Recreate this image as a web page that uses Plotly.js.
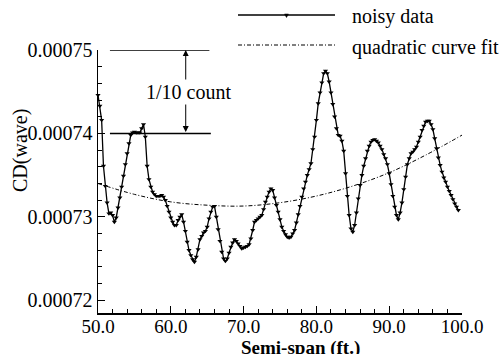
<!DOCTYPE html>
<html><head><meta charset="utf-8">
<script src="https://cdn.plot.ly/plotly-3.0.1.min.js"></script>
<style>html,body{margin:0;padding:0;background:#fff;}#chart{width:499px;height:354px;}</style>
</head><body><div id="chart"></div>
<script>
// Semi-span stations (ft): first station and spacing
const spanStart = 50;
const spanStep = 0.25;
// CD(wave) x 1e6, noisy data, one value per station
const noisyCD = [
  744.6,743.3,741.6,736.1,733.7,731.7,730.4,730.5,
  730.2,729.4,729.9,731.1,732.3,733.6,734.9,736.3,
  737.6,738.8,739.8,740.1,740.2,740.1,740.1,740.1,
  740.6,741.1,739.6,736.1,734.5,733.6,733.0,732.7,
  732.5,732.5,732.5,732.6,732.4,732.0,731.3,730.6,
  729.9,729.4,729.0,729.0,729.6,730.0,730.3,729.4,
  728.3,727.0,726.0,725.4,724.9,724.6,725.2,726.1,
  727.3,727.7,728.1,728.3,728.8,729.8,730.6,731.2,
  731.3,730.0,728.5,727.1,725.8,725.0,724.7,725.0,
  725.7,726.4,726.9,727.3,727.1,726.8,726.5,726.2,
  726.3,726.4,726.5,726.7,727.4,728.4,729.4,729.6,
  729.8,730.0,730.2,730.9,731.8,732.4,733.0,733.4,
  733.2,732.3,731.4,730.6,729.7,728.8,728.3,727.9,
  727.6,727.5,727.6,728.0,728.4,729.3,730.3,731.3,
  732.4,733.4,734.2,735.0,735.7,736.4,738.1,739.6,
  741.6,743.6,744.9,746.1,747.2,747.5,747.2,746.2,
  744.9,743.5,742.0,740.6,739.8,739.7,739.1,737.9,
  735.2,732.5,730.2,728.6,728.2,729.0,730.5,732.2,
  733.8,735.0,736.1,737.0,737.9,738.5,739.0,739.2,
  739.3,739.1,738.9,738.5,738.1,737.5,737.0,736.3,
  735.2,733.9,732.5,731.2,730.2,729.7,730.5,731.7,
  733.3,734.8,736.3,737.0,737.6,737.8,738.1,738.4,
  739.0,739.6,740.4,740.9,741.4,741.5,741.5,741.1,
  740.5,739.4,738.2,737.1,736.2,735.4,734.7,734.2,
  733.6,733.1,732.6,732.1,731.6,731.2,730.8
];
// quadratic curve fit, read every 5 ft
const fitStart = 50;
const fitStep = 5;
const fitCD = [734.0,732.7,731.8,731.4,731.3,731.7,732.5,733.7,735.3,737.4,739.8];

const xTickVals = [50,60,70,80,90,100];
const xTickText = ["50.0","60.0","70.0","80.0","90.0","100.0"];
const yTickVals = [720,730,740,750];
const yTickText = ["0.00072","0.00073","0.00074","0.00075"];
const seriesNames = ["noisy data","quadratic curve fit"];
const xTitle = "Semi-span (ft.)";
const yTitle = "CD(wave)";
const noteText = "1/10 count";

const FONT = "Liberation Serif, Times New Roman, serif";
const fitDash = "4px,2px,1px,2px";

const traces = [
  {type:'scatter', mode:'lines+markers', name:seriesNames[0],
   x0:spanStart, dx:spanStep, y:noisyCD, cliponaxis:false,
   line:{color:'#000', width:1.3},
   marker:{symbol:'triangle-down', size:4.5, color:'#000'}},
  {type:'scatter', mode:'lines', name:seriesNames[1],
   x0:fitStart, dx:fitStep, y:fitCD, line:{color:'#000', width:1, dash:fitDash, shape:'spline'}}
];

const axisCommon = {
  showline:true, linecolor:'#000', linewidth:1.5, mirror:false,
  showgrid:false, zeroline:false, ticks:'inside', ticklen:7, tickwidth:1.2, tickcolor:'#000',
  tickmode:'array', tickfont:{family:FONT, size:19, color:'#000'}, fixedrange:true
};

const px2xp = p => (p-98)/364;
const py2yp = p => (313-p)/263;

const layout = {
  width:499, height:354, autosize:false,
  margin:{l:98, r:37, t:50, b:41, pad:0},
  paper_bgcolor:'#fff', plot_bgcolor:'#fff',
  showlegend:false,
  font:{family:FONT, color:'#000', size:20},
  xaxis:Object.assign({}, axisCommon, {range:[50,100], tickvals:xTickVals, ticktext:xTickText,
    ticklabelstandoff:-4,
    minor:{tickmode:'linear', tick0:50, dtick:2, ticks:'inside', ticklen:4, tickwidth:1, tickcolor:'#000'}}),
  yaxis:Object.assign({}, axisCommon, {range:[718.48,750], tickvals:yTickVals, ticktext:yTickText,
    tickfont:{family:FONT, size:20, color:'#000'},
    minor:{tickmode:'linear', tick0:720, dtick:2, ticks:'inside', ticklen:4, tickwidth:1, tickcolor:'#000'}}),
  shapes:[
    {type:'line', xref:'x', yref:'y', x0:51.64, x1:65.3, y0:750, y1:750, line:{color:'#000', width:1.5}},
    {type:'line', xref:'x', yref:'y', x0:51.64, x1:65.5, y0:740, y1:740, line:{color:'#000', width:1.5}},
    {type:'line', xref:'paper', yref:'paper', x0:px2xp(238), x1:px2xp(335), y0:py2yp(15), y1:py2yp(15), line:{color:'#000', width:1.5}},
    {type:'line', xref:'paper', yref:'paper', x0:px2xp(238), x1:px2xp(335), y0:py2yp(45), y1:py2yp(45), line:{color:'#000', width:1, dash:fitDash}},
    {type:'path', xref:'paper', yref:'paper', fillcolor:'#000', line:{color:'#000', width:0.5},
     path:'M'+px2xp(284.5)+','+py2yp(14)+' L'+px2xp(288.5)+','+py2yp(14)+' L'+px2xp(286.5)+','+py2yp(17.5)+' Z'}
  ],
  annotations:[
    {xref:'paper', yref:'paper', x:px2xp(20), y:py2yp(151), text:yTitle, textangle:-90, showarrow:false,
     xanchor:'center', yanchor:'middle', font:{family:FONT, size:20, color:'#000'}},
    {xref:'paper', yref:'paper', x:px2xp(300), y:py2yp(335), text:'<b>'+xTitle+'</b>', showarrow:false,
     xanchor:'center', yanchor:'top', font:{family:FONT, size:19, color:'#000'}},
    {xref:'x', yref:'y', x:62.05, y:750, axref:'x', ayref:'y', ax:62.05, ay:740, text:'', showarrow:true,
     arrowside:'end+start', arrowhead:2, arrowsize:1.2, arrowwidth:1, arrowcolor:'#000', standoff:0, startstandoff:0},
    {xref:'x', yref:'y', x:62.4, y:745, text:noteText, showarrow:false, bgcolor:'#fff',
     xanchor:'center', yanchor:'middle', font:{family:FONT, size:20, color:'#000'}},
    {xref:'paper', yref:'paper', x:px2xp(350), y:py2yp(17), text:seriesNames[0], showarrow:false,
     xanchor:'left', yanchor:'middle', font:{family:FONT, size:20, color:'#000'}},
    {xref:'paper', yref:'paper', x:px2xp(350), y:py2yp(47), text:seriesNames[1], showarrow:false,
     xanchor:'left', yanchor:'middle', font:{family:FONT, size:20, color:'#000'}}
  ]
};

Plotly.newPlot('chart', traces, layout, {staticPlot:true, displayModeBar:false});
</script>
</body></html>
